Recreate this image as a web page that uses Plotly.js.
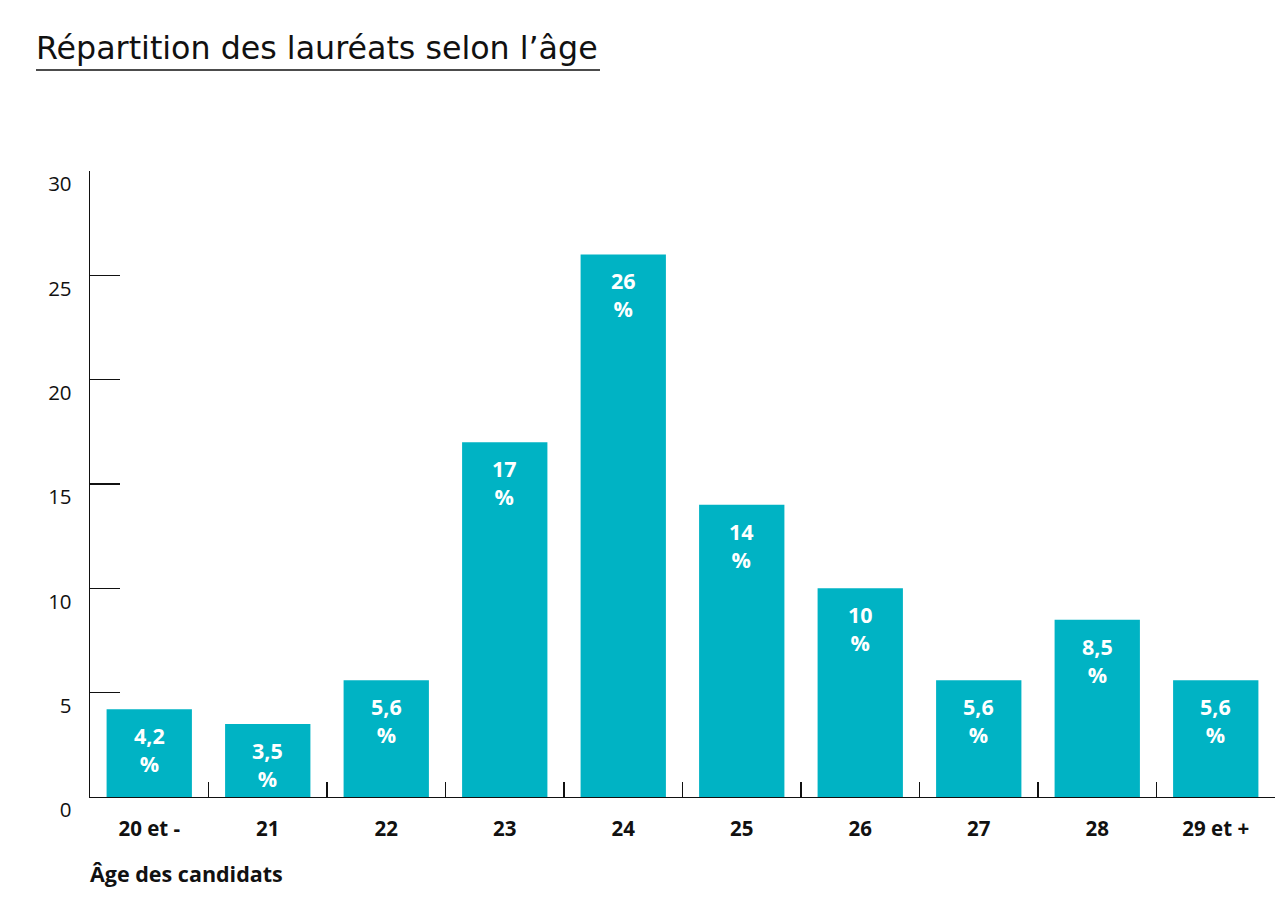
<!DOCTYPE html>
<html>
<head>
<meta charset="utf-8">
<script src="https://cdn.plot.ly/plotly-3.0.1.min.js"></script>
<style>html,body{margin:0;padding:0;background:#fff;}#chart{width:1284px;height:898px;}</style>
</head>
<body>
<div id="chart"></div>
<script>
const categories = ["20 et -", "21", "22", "23", "24", "25", "26", "27", "28", "29 et +"];
const values = [4.2, 3.5, 5.6, 17, 26, 14, 10, 5.6, 8.5, 5.6];
const yTicks = [0, 5, 10, 15, 20, 25, 30];

const FONT = "'Open Sans', Lato, sans-serif";
const TITLE_FONT = "'DejaVu Sans', 'Open Sans', sans-serif";
const labels = values.map(v => String(v).replace('.', ',') + '<br>%');

const trace = {
  type: 'bar',
  x: categories,
  y: values,
  marker: {color: '#00B3C4'},
  width: 0.72,
  hoverinfo: 'none'
};

// category axis: annotation x given as the category index
const barLabels = categories.map((c, i) => ({
  text: labels[i],
  x: i, y: values[i],
  xref: 'x', yref: 'y',
  xanchor: 'center', yanchor: 'top',
  yshift: -10,
  showarrow: false,
  font: {family: FONT, size: 21.5, color: '#ffffff', weight: 700}
}));

const layout = {
  width: 1284,
  height: 898,
  margin: {l: 90, r: 9, t: 171, b: 101, pad: 0},
  paper_bgcolor: '#ffffff',
  plot_bgcolor: '#ffffff',
  showlegend: false,
  font: {family: FONT, color: '#111111'},
  title: {
    text: 'Répartition des lauréats selon l’âge',
    font: {family: TITLE_FONT, size: 31.7, color: '#111111'},
    xref: 'container', x: 36 / 1284, xanchor: 'left',
    yref: 'container', y: 1 - 48 / 898, yanchor: 'middle'
  },
  xaxis: {
    type: 'category',
    range: [-0.5, 9.5],
    showline: true, linecolor: '#111111', linewidth: 1.3,
    ticks: 'inside', ticklen: 15, tickwidth: 1.3, tickcolor: '#111111',
    tickson: 'boundaries',
    showgrid: false, zeroline: false,
    tickfont: {family: FONT, size: 20.5, color: '#111111', weight: 700},
    ticklabelstandoff: 13,
    fixedrange: true
  },
  yaxis: {
    range: [0, 30],
    tickvals: yTicks,
    showline: true, linecolor: '#111111', linewidth: 1.3,
    ticks: 'inside', ticklen: 30, tickwidth: 1.3, tickcolor: '#111111',
    showgrid: false, zeroline: false,
    tickfont: {family: FONT, size: 20.5, color: '#111111'},
    ticklabelstandoff: 13,
    ticklabelshift: 13,
    fixedrange: true
  },
  annotations: barLabels.concat([{
    text: 'Âge des candidats',
    xref: 'paper', yref: 'paper',
    x: -2 / 1185, y: -(873 - 797) / 626,
    xanchor: 'left', yanchor: 'middle',
    showarrow: false,
    font: {family: FONT, size: 21.5, color: '#111111', weight: 700}
  }]),
  shapes: [{
    type: 'line', xref: 'paper', yref: 'paper',
    x0: (36 - 90) / 1185, x1: (600 - 90) / 1185,
    y0: (797 - 70) / 626, y1: (797 - 70) / 626,
    line: {color: '#111111', width: 1.5}
  }]
};

Plotly.newPlot('chart', [trace], layout, {displayModeBar: false, staticPlot: true});
</script>
</body>
</html>
